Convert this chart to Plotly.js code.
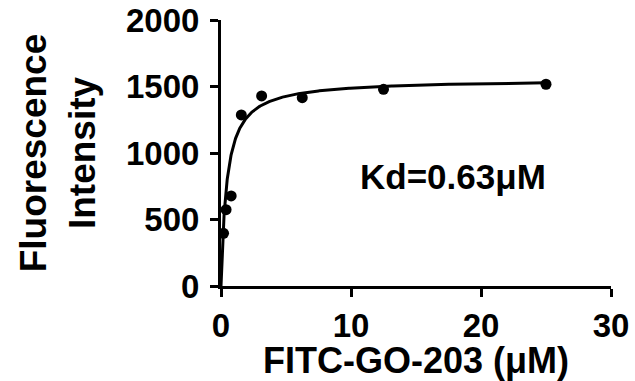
<!DOCTYPE html>
<html>
<head>
<meta charset="utf-8">
<script src="https://cdn.plot.ly/plotly-3.0.1.min.js"></script>
<style>html,body{margin:0;padding:0;background:#fff;}#chart{width:635px;height:381px;}</style>
</head>
<body>
<div id="chart"></div>
<script>
// Measured points (concentration in µM, fluorescence intensity)
const concentration = [0.1953125, 0.390625, 0.78125, 1.5625, 3.125, 6.25, 12.5, 25];
const intensity = [396, 574, 677, 1286, 1429, 1416, 1479, 1517];

// One-site binding fit curve parameters (as drawn)
const fitBmax = 1555;
const fitHalf = 0.45;
const fitXmax = 25;

const xTicks = [0, 10, 20, 30];
const yTicks = [0, 500, 1000, 1500, 2000];
const kdLabel = 'Kd=0.63\u03bcM';

const curveX = [], curveY = [];
const n = 400;
for (let i = 0; i <= n; i++) {
  const x = fitXmax * Math.pow(i / n, 2);
  curveX.push(x);
  curveY.push(fitBmax * x / (fitHalf + x));
}

const font = {family: 'Arial, "Liberation Sans", sans-serif', color: '#000', weight: 'bold'};

const data = [
  {x: curveX, y: curveY, mode: 'lines', line: {color: '#000', width: 3}, cliponaxis: false, hoverinfo: 'skip'},
  {x: concentration, y: intensity, mode: 'markers', marker: {color: '#000', size: 11}, cliponaxis: false}
];

const layout = {
  width: 635, height: 381,
  margin: {l: 221, r: 24, t: 20, b: 95},
  paper_bgcolor: '#fff', plot_bgcolor: '#fff',
  showlegend: false,
  font: Object.assign({}, font, {size: 33}),
  xaxis: {
    range: [0, 30], tickvals: xTicks, ticktext: xTicks.map(String),
    showgrid: false, zeroline: false, showline: true, linecolor: '#000', linewidth: 3,
    ticks: 'outside', ticklen: 8, tickwidth: 3, tickcolor: '#000',
    tickfont: Object.assign({}, font, {size: 33}),
    title: {text: 'FITC-GO-203 (\u03bcM)', font: Object.assign({}, font, {size: 36}), standoff: 6}
  },
  yaxis: {
    range: [0, 2000], tickvals: yTicks, ticktext: yTicks.map(String),
    showgrid: false, zeroline: false, showline: true, linecolor: '#000', linewidth: 3,
    ticks: 'outside', ticklen: 8, tickwidth: 3, tickcolor: '#000',
    ticklabelstandoff: 4,
    tickfont: Object.assign({}, font, {size: 33}),
    title: {text: 'Fluorescence<br>Intensity', font: Object.assign({}, font, {size: 37}), standoff: 20}
  },
  annotations: [{
    xref: 'paper', yref: 'paper', x: 0.595, y: 0.41, xanchor: 'center', yanchor: 'middle',
    text: kdLabel, showarrow: false, font: Object.assign({}, font, {size: 35})
  }]
};

Plotly.newPlot('chart', data, layout, {staticPlot: true, displayModeBar: false});
</script>
</body>
</html>
